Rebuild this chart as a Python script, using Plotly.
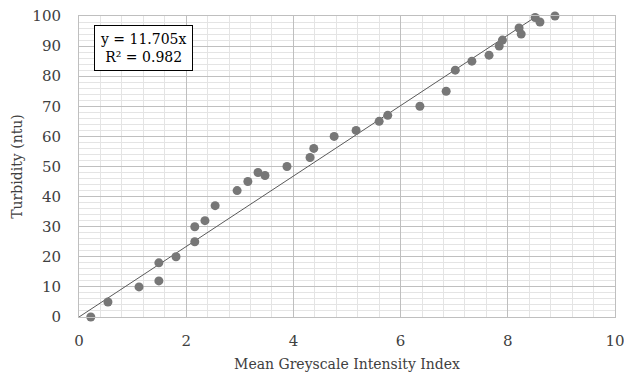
import plotly.graph_objects as go

x_vals = [0.22, 0.54, 1.12, 1.49, 1.49, 1.81, 2.16, 2.16, 2.35, 2.54, 2.95,
          3.15, 3.34, 3.47, 3.88, 4.31, 4.38, 4.76, 5.17, 5.60, 5.76, 6.36,
          6.85, 7.02, 7.33, 7.65, 7.84, 7.90, 8.21, 8.25, 8.51, 8.60, 8.88]
y_vals = [0, 5, 10, 12, 18, 20, 25, 30, 32, 37, 42,
          45, 48, 47, 50, 53, 56, 60, 62, 65, 67, 70,
          75, 82, 85, 87, 90, 92, 96, 94, 99.5, 98, 100]
slope = 11.705
r2 = 0.982
x_title = "Mean Greyscale Intensity Index"
y_title = "Turbidity (ntu)"

trend_x = [0, max(x_vals)]
trend_y = [slope * v for v in trend_x]

font = "DejaVu Serif"

fig = go.Figure()
fig.add_trace(go.Scatter(x=trend_x, y=trend_y, mode="lines",
                         line=dict(color="#5a5a5a", width=1), showlegend=False,
                         hoverinfo="skip"))
fig.add_trace(go.Scatter(x=x_vals, y=y_vals, mode="markers",
                         marker=dict(color="#777777", size=9), showlegend=False,
                         cliponaxis=False))

fig.add_annotation(x=1.21, y=89.4, xref="x", yref="y",
                   text=f"y = {slope}x<br>R² = {r2}", showarrow=False,
                   font=dict(family=font, size=14, color="black"),
                   bgcolor="white", bordercolor="black", borderwidth=1, borderpad=5)

fig.update_layout(
    width=624, height=372,
    margin=dict(l=79, r=9, t=16, b=55),
    paper_bgcolor="white", plot_bgcolor="white",
    font=dict(family=font, size=14, color="#404040"),
)
fig.update_xaxes(range=[0, 10], dtick=2, showgrid=True, gridcolor="#bfbfbf", gridwidth=1,
                 minor=dict(dtick=0.4, showgrid=True, gridcolor="#e4e4e4", gridwidth=1),
                 zeroline=False, showline=True, linecolor="#bfbfbf", mirror=True,
                 automargin=False, ticks="", ticklabelstandoff=10, ticklabeloverflow="allow",
                 tickfont=dict(size=15, color="#404040"),
                 title=dict(text=x_title, font=dict(size=14, color="#404040"), standoff=10))
fig.update_yaxes(range=[0, 100], dtick=10, showgrid=True, gridcolor="#bfbfbf", gridwidth=1,
                 minor=dict(dtick=2, showgrid=True, gridcolor="#e4e4e4", gridwidth=1),
                 zeroline=False, showline=True, linecolor="#bfbfbf", mirror=True,
                 automargin=False, ticks="", ticklabelstandoff=14,
                 tickfont=dict(size=15, color="#404040"),
                 title=dict(text=y_title, font=dict(size=14, color="#404040"), standoff=6))

fig.write_html("out.html", config={"displayModeBar": False},
               post_script="document.body.style.margin='0px';")
